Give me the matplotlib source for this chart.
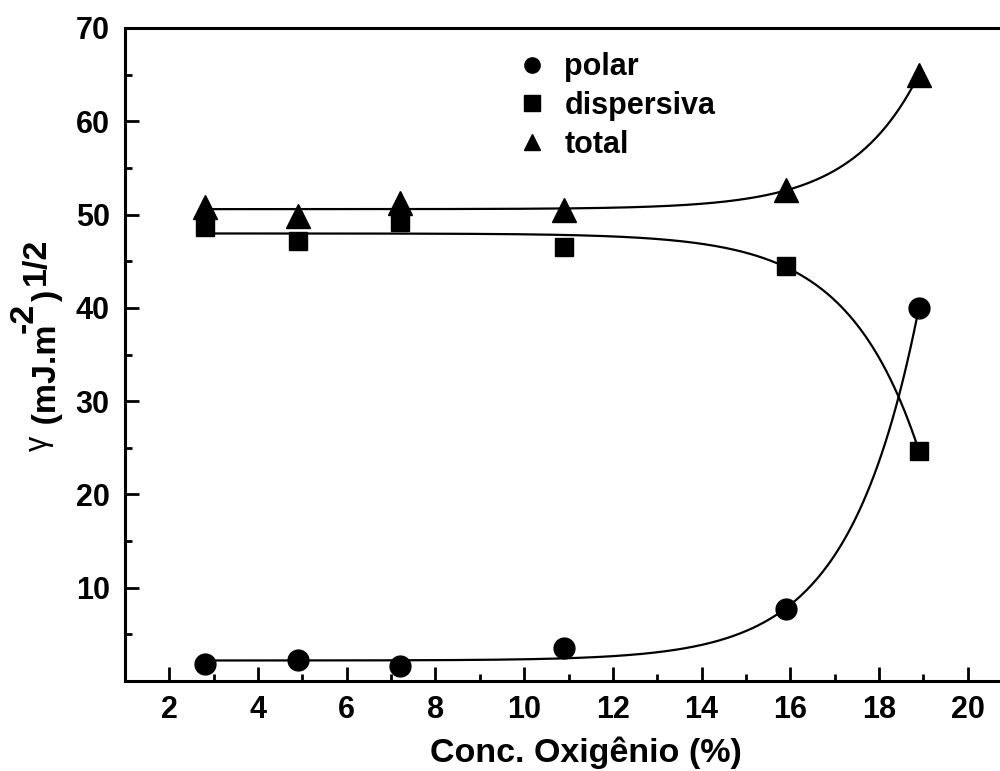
import numpy as np
import matplotlib
matplotlib.use("Agg")
import matplotlib.pyplot as plt
from matplotlib.ticker import MultipleLocator

# Data
conc = [2.8, 4.9, 7.2, 10.9, 15.9, 18.9]
polar = [1.8, 2.25, 1.6, 3.5, 7.7, 40.0]
dispersiva = [48.7, 47.2, 49.2, 46.5, 44.5, 24.7]
total = [50.8, 49.9, 51.2, 50.5, 52.6, 65.0]

plt.rcParams['font.family'] = ['Liberation Sans', 'DejaVu Sans']
plt.rcParams['font.weight'] = 'bold'

W, H = 1000, 771


def expfit(x, y):
    """Least-squares fit of y = y0 + A*exp(x/t) (grid over t)."""
    x = np.asarray(x, float)
    y = np.asarray(y, float)
    best = None
    for t in np.linspace(0.3, 20, 4000):
        M = np.column_stack([np.ones_like(x), np.exp(x / t)])
        coef, *_ = np.linalg.lstsq(M, y, rcond=None)
        r = np.sum((M @ coef - y) ** 2)
        if best is None or r < best[0]:
            best = (r, t, coef)
    _, t, (y0, A) = best
    return lambda xx: y0 + A * np.exp(xx / t)


fig = plt.figure(figsize=(W / 100, H / 100), dpi=100)
ax = fig.add_axes([0.125, 0.1167, 0.887, 0.847])

xs = np.linspace(conc[0], conc[-1], 400)
for ys in (polar, dispersiva, total):
    f = expfit(conc, ys)
    ax.plot(xs, f(xs), color='black', lw=1.6, zorder=2)

ax.plot(conc, polar, 'o', color='black', ms=15, ls='none', label='polar', zorder=3)
ax.plot(conc, dispersiva, 's', color='black', ms=13.5, ls='none', label='dispersiva', zorder=3)
ax.plot(conc, total, '^', color='black', ms=17, ls='none', label='total', zorder=3)

ax.set_xlim(1, 21)
ax.set_ylim(0, 70)
ax.xaxis.set_major_locator(MultipleLocator(2))
ax.xaxis.set_minor_locator(MultipleLocator(1))
ax.yaxis.set_major_locator(MultipleLocator(10))
ax.yaxis.set_minor_locator(MultipleLocator(5))
ax.set_yticks([10, 20, 30, 40, 50, 60, 70])

for s in ax.spines.values():
    s.set_linewidth(2.2)
ax.tick_params(which='both', direction='in', width=2.0, labelsize=22,
               top=False, right=False)
ax.tick_params(which='major', length=10)
ax.tick_params(which='minor', length=5)
ax.tick_params(axis='x', pad=10)
ax.tick_params(axis='y', pad=11)

ax.set_xlabel('Conc. Oxigênio (%)', fontsize=24.5, fontweight='bold')
ax.xaxis.set_label_coords(0.52, -0.085)


# y label assembled from pieces (rotated, reading upward), pixel coords
def ytxt(xpx, ypx, s, size, weight='bold'):
    fig.text(xpx / W, 1 - ypx / H, s, rotation=90, rotation_mode='anchor',
             ha='left', va='baseline', fontsize=size, fontweight=weight)


ytxt(47, 451, 'γ', 22, 'normal')
ytxt(56, 434, ' (mJ.m', 24.5)
ytxt(33, 333, '-2', 24.5)
ytxt(56, 301, ')', 24.5)
ytxt(45, 285, '1/2', 24.5)

leg = ax.legend(loc='upper left', bbox_to_anchor=(0.4105, 1.0), frameon=False,
                fontsize=22, handletextpad=0.46, labelspacing=0.28,
                handlelength=1.2, borderaxespad=0.4)
for h in leg.legend_handles:
    h.set_markersize(11)

fig.savefig('out.png', dpi=100)
